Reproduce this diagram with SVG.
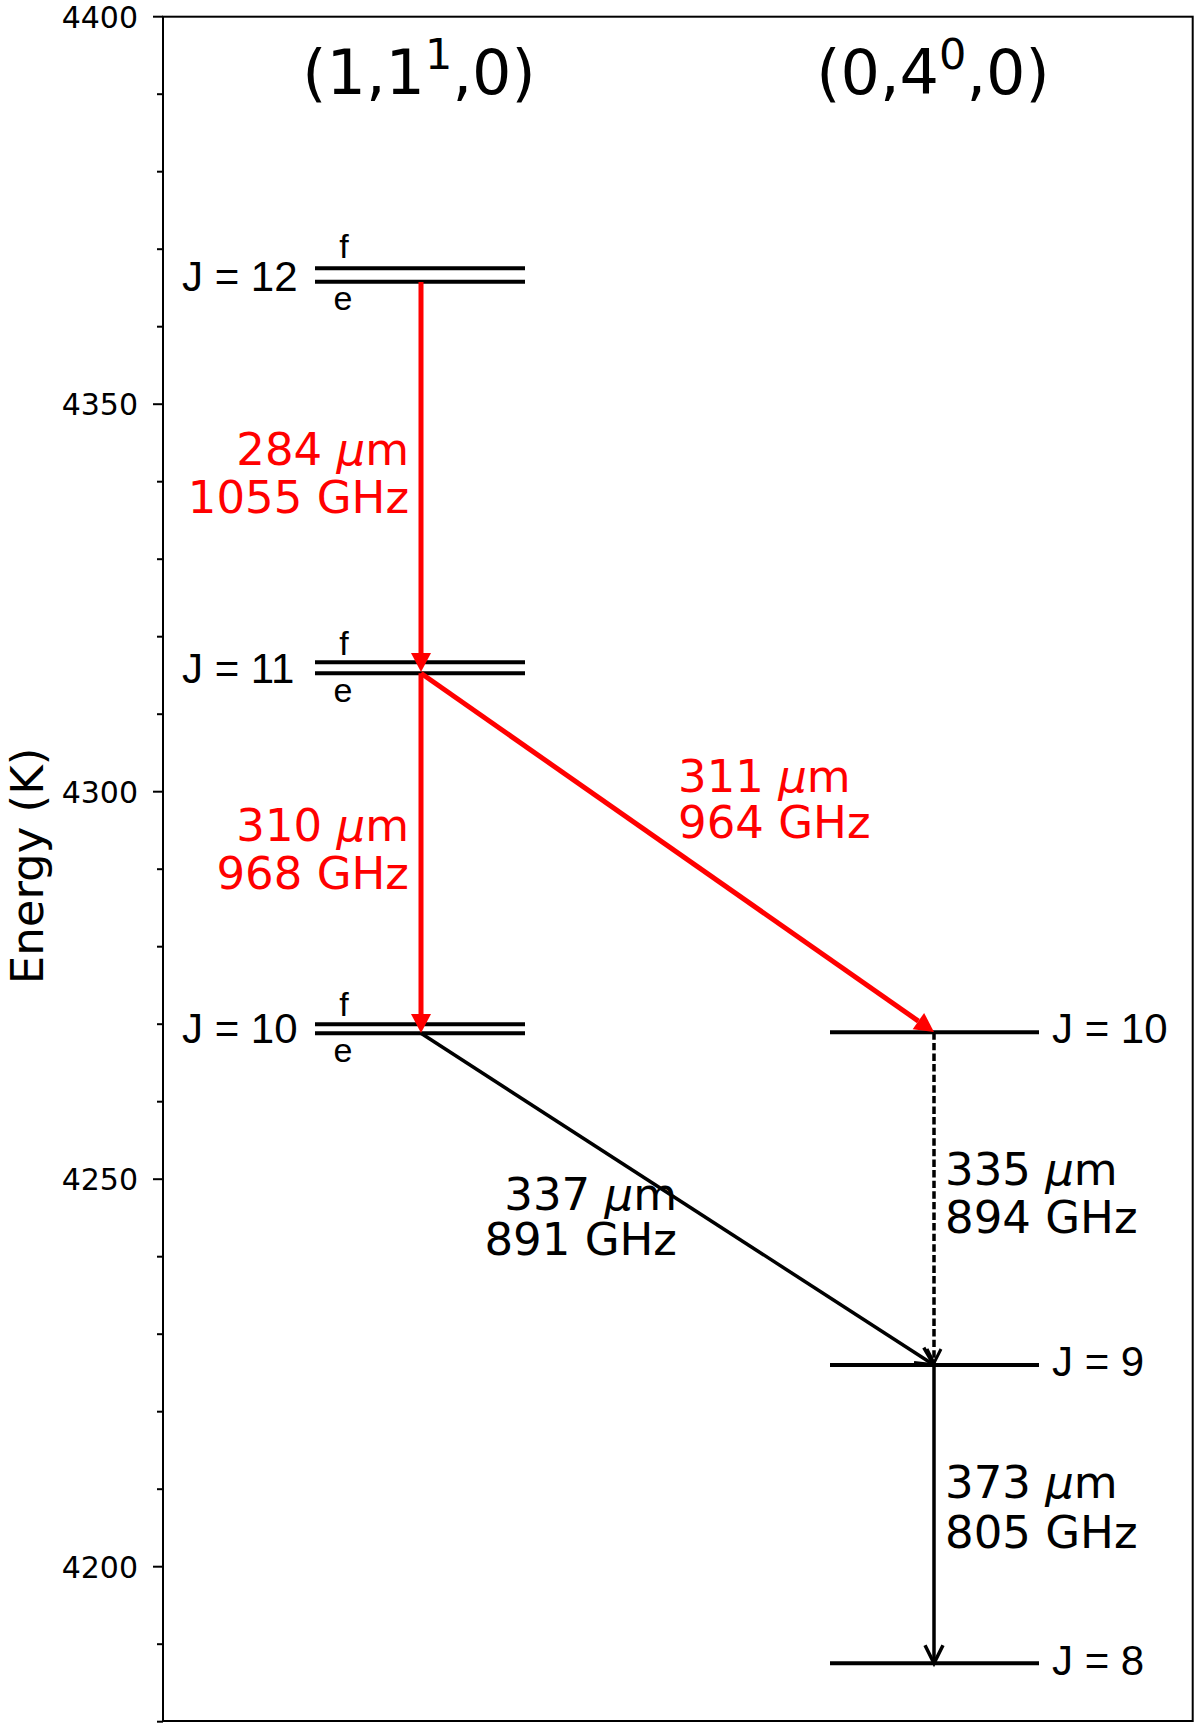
<svg xmlns="http://www.w3.org/2000/svg" width="1200" height="1729" viewBox="0 0 1200 1729">
<style>
.lvl{stroke:#000;stroke-width:4;fill:none}
.tick{stroke:#000;stroke-width:2}
.tl{font-family:"DejaVu Sans",sans-serif;font-size:30px;text-anchor:end;fill:#000}
.jl{font-family:"Liberation Sans",Arial,sans-serif;font-size:42px;fill:#000}
.fe{font-family:"Liberation Sans",Arial,sans-serif;font-size:34px;text-anchor:middle;fill:#000}
.tr{font-family:"DejaVu Sans",sans-serif;font-size:45px;fill:#000}
.title{font-family:"DejaVu Sans",sans-serif;font-size:62px;text-anchor:middle;fill:#000}
.red{fill:#ff0000}
.mu{font-style:italic}
.ra{stroke:#ff0000;stroke-width:5;fill:none}
.ba{stroke:#000;stroke-width:3.5;fill:none}
</style>
<defs>
<marker id="redHead" markerUnits="userSpaceOnUse" markerWidth="20" markerHeight="20" refX="0" refY="10" orient="auto" overflow="visible"><path d="M0,0 L19,10 L0,20 z" fill="#ff0000"/></marker>
<marker id="openHead" markerUnits="userSpaceOnUse" markerWidth="20" markerHeight="20" refX="18" refY="9" orient="auto" overflow="visible"><path d="M0,0 L18,9 L0,18" fill="none" stroke="#000" stroke-width="3.5"/></marker>
<marker id="smallHead" markerUnits="userSpaceOnUse" markerWidth="16" markerHeight="16" refX="14" refY="7" orient="auto" overflow="visible"><path d="M0,0 L14,7 L0,14" fill="none" stroke="#000" stroke-width="3"/></marker>
</defs>
<rect width="1200" height="1729" fill="#fff"/>
<g id="axes">
<rect x="163" y="16.7" width="1029.7" height="1704.3" fill="none" stroke="#000" stroke-width="2"/>
<g id="major-ticks">
<line class="tick" x1="153" y1="16.7" x2="163" y2="16.7"/>
<line class="tick" x1="153" y1="404.2" x2="163" y2="404.2"/>
<line class="tick" x1="153" y1="791.7" x2="163" y2="791.7"/>
<line class="tick" x1="153" y1="1179.2" x2="163" y2="1179.2"/>
<line class="tick" x1="153" y1="1566.7" x2="163" y2="1566.7"/>
</g>
<g id="minor-ticks">
<line class="tick" x1="157" y1="94.2" x2="163" y2="94.2"/>
<line class="tick" x1="157" y1="171.7" x2="163" y2="171.7"/>
<line class="tick" x1="157" y1="249.2" x2="163" y2="249.2"/>
<line class="tick" x1="157" y1="326.7" x2="163" y2="326.7"/>
<line class="tick" x1="157" y1="481.7" x2="163" y2="481.7"/>
<line class="tick" x1="157" y1="559.2" x2="163" y2="559.2"/>
<line class="tick" x1="157" y1="636.7" x2="163" y2="636.7"/>
<line class="tick" x1="157" y1="714.2" x2="163" y2="714.2"/>
<line class="tick" x1="157" y1="869.2" x2="163" y2="869.2"/>
<line class="tick" x1="157" y1="946.7" x2="163" y2="946.7"/>
<line class="tick" x1="157" y1="1024.2" x2="163" y2="1024.2"/>
<line class="tick" x1="157" y1="1101.7" x2="163" y2="1101.7"/>
<line class="tick" x1="157" y1="1256.7" x2="163" y2="1256.7"/>
<line class="tick" x1="157" y1="1334.2" x2="163" y2="1334.2"/>
<line class="tick" x1="157" y1="1411.7" x2="163" y2="1411.7"/>
<line class="tick" x1="157" y1="1489.2" x2="163" y2="1489.2"/>
<line class="tick" x1="157" y1="1644.2" x2="163" y2="1644.2"/>
<line class="tick" x1="157" y1="1721.7" x2="163" y2="1721.7"/>
</g>
<g id="tick-labels">
<text class="tl" x="138" y="27.5">4400</text>
<text class="tl" x="138" y="415">4350</text>
<text class="tl" x="138" y="802.5">4300</text>
<text class="tl" x="138" y="1190">4250</text>
<text class="tl" x="138" y="1577.5">4200</text>
</g>
<text id="ylabel" class="tr" transform="translate(43,866) rotate(-90)" text-anchor="middle" font-size="46">Energy (K)</text>
</g>
<g id="titles">
<text id="title-left" class="title" x="419" y="94">(1,1<tspan dy="-25" font-size="43">1</tspan><tspan dy="25">,0)</tspan></text>
<text id="title-right" class="title" x="933" y="94">(0,4<tspan dy="-25" font-size="43">0</tspan><tspan dy="25">,0)</tspan></text>
</g>
<g id="level-J12-left">
<line class="lvl" x1="315" y1="268.3" x2="525" y2="268.3"/>
<line class="lvl" x1="315" y1="281.7" x2="525" y2="281.7"/>
<text class="jl" x="182" y="291">J = 12</text>
<text class="fe" x="344" y="258">f</text>
<text class="fe" x="343" y="310">e</text>
</g>
<g id="level-J11-left">
<line class="lvl" x1="315" y1="662.3" x2="525" y2="662.3"/>
<line class="lvl" x1="315" y1="673.3" x2="525" y2="673.3"/>
<text class="jl" x="182" y="683">J = 11</text>
<text class="fe" x="344" y="655">f</text>
<text class="fe" x="343" y="701.5">e</text>
</g>
<g id="level-J10-left">
<line class="lvl" x1="315" y1="1024.3" x2="525" y2="1024.3"/>
<line class="lvl" x1="315" y1="1033.3" x2="525" y2="1033.3"/>
<text class="jl" x="182" y="1043">J = 10</text>
<text class="fe" x="344" y="1016">f</text>
<text class="fe" x="343" y="1061.5">e</text>
</g>
<g id="level-J10-right">
<line class="lvl" x1="830" y1="1032.3" x2="1039" y2="1032.3"/>
<text class="jl" x="1052" y="1043">J = 10</text>
</g>
<g id="level-J9-right">
<line class="lvl" x1="830" y1="1365" x2="1039" y2="1365"/>
<text class="jl" x="1052" y="1376">J = 9</text>
</g>
<g id="level-J8-right">
<line class="lvl" x1="830" y1="1663.3" x2="1039" y2="1663.3"/>
<text class="jl" x="1052" y="1675">J = 8</text>
</g>
<g id="connectors">
<line class="ba" x1="421" y1="1033.3" x2="934" y2="1365" marker-end="url(#openHead)"/>
<line class="ba" x1="934" y1="1032.3" x2="934" y2="1363" stroke-width="3" stroke-dasharray="7.4,3.2" marker-end="url(#smallHead)"/>
<line class="ba" x1="934" y1="1365" x2="934" y2="1663.3" marker-end="url(#openHead)"/>
<line class="ra" x1="421" y1="282" x2="421" y2="653" marker-end="url(#redHead)"/>
<line class="ra" x1="421" y1="673.3" x2="421" y2="1014" marker-end="url(#redHead)"/>
<line class="ra" x1="421" y1="673.3" x2="918.4" y2="1021.1" marker-end="url(#redHead)"/>
</g>
<g id="connector-labels">
<text class="tr red" x="409" y="465" text-anchor="end">284 <tspan class="mu">μ</tspan>m</text>
<text class="tr red" x="409" y="513" text-anchor="end">1055 GHz</text>
<text class="tr red" x="409" y="841" text-anchor="end">310 <tspan class="mu">μ</tspan>m</text>
<text class="tr red" x="409" y="889" text-anchor="end">968 GHz</text>
<text class="tr red" x="678" y="792">311 <tspan class="mu">μ</tspan>m</text>
<text class="tr red" x="678" y="838">964 GHz</text>
<text class="tr" x="677" y="1210" text-anchor="end">337 <tspan class="mu">μ</tspan>m</text>
<text class="tr" x="677" y="1255" text-anchor="end">891 GHz</text>
<text class="tr" x="945" y="1185">335 <tspan class="mu">μ</tspan>m</text>
<text class="tr" x="945" y="1233">894 GHz</text>
<text class="tr" x="945" y="1498">373 <tspan class="mu">μ</tspan>m</text>
<text class="tr" x="945" y="1548">805 GHz</text>
</g>
</svg>
